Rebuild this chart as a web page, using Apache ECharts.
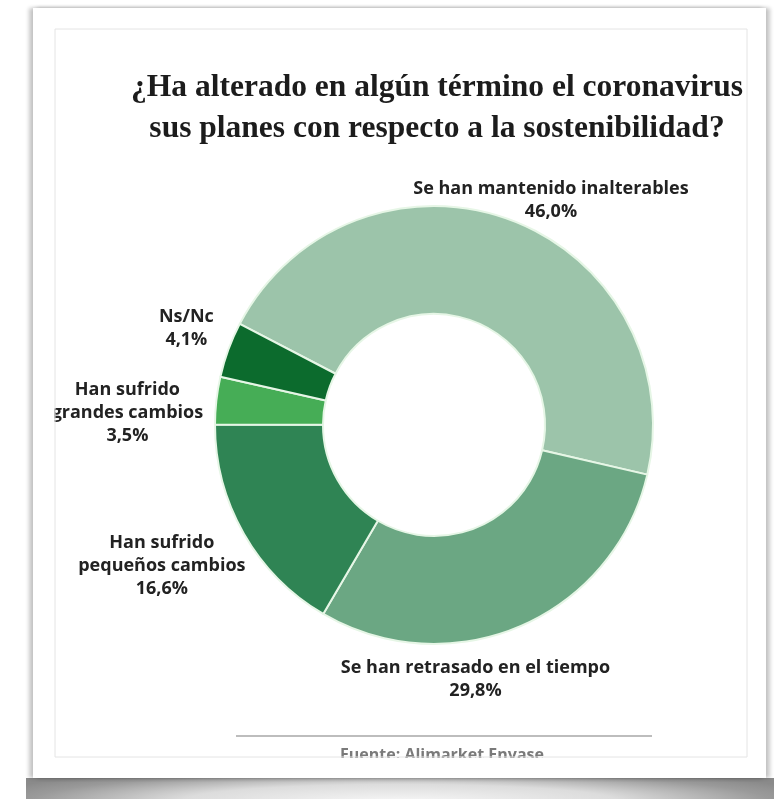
<!DOCTYPE html>
<html>
<head>
<meta charset="utf-8">
<script src="https://cdn.jsdelivr.net/npm/echarts@6/dist/echarts.min.js"></script>
<style>
  html, body { margin: 0; padding: 0; background: #ffffff; width: 780px; height: 799px; overflow: hidden; }
  #card {
    position: absolute; left: 33px; top: 8px; width: 733px; height: 770px; background: #fff;
    box-shadow: -4px 0 4px rgba(0,0,0,0.22), 4px 0 4px rgba(0,0,0,0.22), 0 -1px 3px rgba(0,0,0,0.06);
  }
  #floor {
    position: absolute; left: 26px; top: 778px; width: 748px; height: 21px;
    background: radial-gradient(ellipse 58% 160% at 50% 110%, #f6f6f6 0%, #dcdcdc 50%, #9a9a9a 85%, #8a8a8a 100%);
  }
  #chart { position: absolute; left: 0; top: 0; width: 780px; height: 799px; }
</style>
</head>
<body>
<div id="floor"></div>
<div id="card"></div>
<div id="chart"></div>
<script>
// Survey answers and their shares (%)
const categories = [
  'Se han mantenido inalterables',
  'Se han retrasado en el tiempo',
  'Han sufrido\npequeños cambios',
  'Han sufrido\ngrandes cambios',
  'Ns/Nc'
];
const values = [46.0, 29.8, 16.6, 3.5, 4.1];
const colors = ['#9cc4aa', '#6ba783', '#2f8454', '#46ad56', '#0c6b2d'];

const titleText = '¿Ha alterado en algún término el coronavirus\nsus planes con respecto a la sostenibilidad?';
const sourceText = 'Fuente: Alimarket Envase';

// Donut geometry
const PIE_CENTER = [434, 425];
const PIE_RADIUS = [111, 219];
const START_ANGLE = 152.5;
// label offsets from each slice's outer mid point
const labelNudge = [[41, -19], [-45, 53], [-82, 32], [-89, 12], [-42, -21]];

const total = values.reduce((a, b) => a + b, 0);
function outerMid(i) {
  let acc = 0;
  for (let k = 0; k < i; k++) acc += values[k];
  const deg = START_ANGLE - (acc + values[i] / 2) / total * 360;
  const rad = deg * Math.PI / 180;
  return [PIE_CENTER[0] + PIE_RADIUS[1] * Math.cos(rad), PIE_CENTER[1] - PIE_RADIUS[1] * Math.sin(rad)];
}

const chart = echarts.init(document.getElementById('chart'), null, { renderer: 'canvas' });
chart.setOption({
  backgroundColor: 'transparent',
  animation: false,
  title: {
    text: titleText,
    left: 437,
    top: 67,
    padding: 0,
    textAlign: 'center',
    textStyle: {
      fontFamily: 'Liberation Serif',
      fontWeight: 'bold',
      fontSize: 31.5,
      lineHeight: 41,
      color: '#1c1c1c'
    }
  },
  series: [{
    type: 'pie',
    center: PIE_CENTER,
    radius: PIE_RADIUS,
    startAngle: START_ANGLE,
    clockwise: true,
    avoidLabelOverlap: false,
    data: categories.map((name, i) => ({ name: name, value: values[i], itemStyle: { color: colors[i] } })),
    itemStyle: { borderColor: '#e6f6e6', borderWidth: 2 },
    emphasis: { disabled: true },
    label: {
      show: true,
      position: 'outside',
      fontFamily: 'Open Sans',
      fontWeight: 'bold',
      fontSize: 18,
      lineHeight: 23,
      color: '#222222',
      align: 'center',
      formatter: p => p.name + '\n' + p.value.toFixed(1).replace('.', ',') + '%'
    },
    labelLine: { show: false, length: 0, length2: 0 },
    labelLayout: function (p) {
      const m = outerMid(p.dataIndex);
      const n = labelNudge[p.dataIndex];
      return { x: m[0] + n[0], y: m[1] + n[1], align: 'center', verticalAlign: 'middle' };
    }
  }],
  graphic: [
    { type: 'line', shape: { x1: 236, y1: 736, x2: 652, y2: 736 }, style: { stroke: '#bdbdbd', lineWidth: 2 }, z: 10 },
    { type: 'text', x: 442, y: 747, style: { text: sourceText, fill: '#7a7a7a', font: 'bold 16px "Open Sans"', align: 'center', verticalAlign: 'top' }, z: 10 },
    // card margins outside the inner frame
    { type: 'rect', shape: { x: 33, y: 758, width: 733, height: 20 }, style: { fill: '#ffffff' }, z: 100 },
    { type: 'rect', shape: { x: 33, y: 29, width: 21.5, height: 730 }, style: { fill: '#ffffff' }, z: 100 },
    { type: 'rect', shape: { x: 55, y: 29, width: 692, height: 728 }, style: { fill: 'none', stroke: '#e4e4e4', lineWidth: 1 }, z: 101 }
  ]
});
</script>
</body>
</html>
